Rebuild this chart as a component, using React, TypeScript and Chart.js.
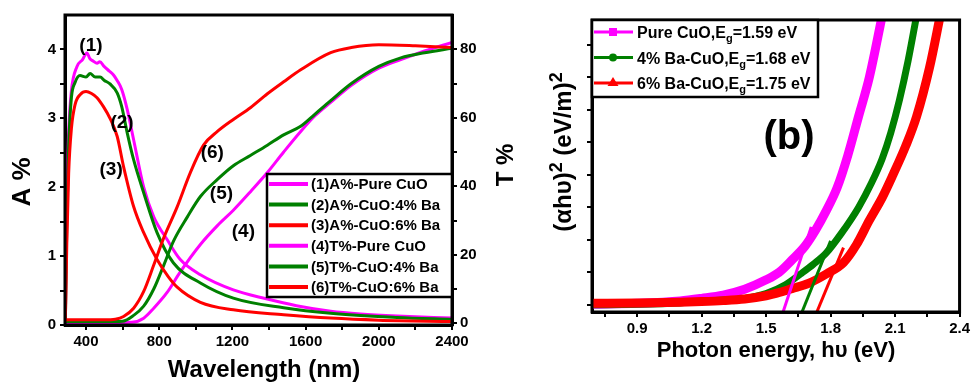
import React, { useEffect, useRef } from 'react';
import { Chart, registerables } from 'chart.js';
Chart.register(...registerables);

const FONT = '"Liberation Sans", Arial, Helvetica, sans-serif';
const MAGENTA = '#FF00FF';
const GREEN = '#008000';
const RED = '#FF0000';

// ---------- Panel (a): absorbance / transmittance vs wavelength ----------
const wlA1 = [287, 295, 305, 320, 350, 380, 405, 420, 440, 460, 475, 500, 530, 550, 570, 595, 625, 660, 715, 770, 843, 915, 1025, 1205, 1385, 1550, 1737, 1900, 2100, 2400];
const absA1 = [0.05, 2.0, 2.8, 3.4, 3.75, 3.85, 3.95, 3.87, 3.83, 3.8, 3.82, 3.75, 3.68, 3.63, 3.55, 3.42, 3.13, 2.69, 2.0, 1.57, 1.24, 0.95, 0.73, 0.51, 0.38, 0.28, 0.2, 0.16, 0.13, 0.1];

const wlA2 = [287, 295, 305, 320, 340, 367, 400, 422, 450, 477, 500, 531, 570, 595, 625, 660, 715, 788, 878, 1025, 1205, 1480, 1737, 2100, 2400];
const absA2 = [0.05, 1.5, 2.6, 3.3, 3.52, 3.62, 3.6, 3.65, 3.6, 3.6, 3.55, 3.5, 3.37, 3.17, 2.79, 2.4, 1.92, 1.34, 0.9, 0.61, 0.39, 0.25, 0.17, 0.11, 0.08];

const wlA3 = [287, 295, 305, 320, 340, 370, 400, 430, 460, 495, 531, 570, 605, 660, 715, 788, 850, 898, 1025, 1205, 1480, 1737, 2000, 2400];
const absA3 = [0.05, 1.2, 2.2, 2.85, 3.2, 3.35, 3.39, 3.36, 3.3, 3.17, 3.0, 2.74, 2.3, 1.72, 1.34, 0.95, 0.7, 0.55, 0.33, 0.22, 0.15, 0.1, 0.07, 0.05];

const wlT4 = [287, 500, 650, 715, 770, 843, 915, 1025, 1118, 1205, 1300, 1391, 1480, 1573, 1650, 1737, 1850, 2000, 2120, 2250, 2400];
const trT4 = [0.2, 0.2, 0.3, 1.5, 4.4, 9, 15, 23, 28.5, 33, 38.5, 44, 50, 56, 60.5, 64.5, 69.5, 74.5, 77, 79.5, 82];

const wlT5 = [287, 500, 600, 660, 715, 770, 825, 878, 953, 1025, 1118, 1205, 1298, 1391, 1480, 1573, 1650, 1737, 1850, 2000, 2120, 2250, 2400];
const trT5 = [0.5, 0.5, 0.6, 2.3, 5, 10, 17, 24, 31, 37, 42, 46, 49, 52, 55, 57.5, 61, 65, 70, 75, 77.5, 79, 80.3];

const wlT6 = [287, 400, 500, 560, 605, 660, 715, 770, 825, 898, 970, 1042, 1118, 1205, 1300, 1391, 1480, 1573, 1737, 1850, 2000, 2200, 2400];
const trT6 = [1, 1, 1, 1.2, 2, 4.4, 9.3, 17, 25, 34, 44, 52, 56, 59.5, 63, 67, 70.5, 74, 79, 80.5, 81.3, 81, 80.5];

const legendA = ['(1)A%-Pure CuO', '(2)A%-CuO:4% Ba', '(3)A%-CuO:6% Ba', '(4)T%-Pure CuO', '(5)T%-CuO:4% Ba', '(6)T%-CuO:6% Ba'];
const legendAColors = [MAGENTA, GREEN, RED, MAGENTA, GREEN, RED];

const xTicksA = [400, 600, 800, 1000, 1200, 1400, 1600, 1800, 2000, 2200, 2400];
const yTicksA = [0, 0.5, 1, 1.5, 2, 2.5, 3, 3.5, 4];
const yTicksT = [0, 10, 20, 30, 40, 50, 60, 70, 80];

const curveTags = [
  { t: '(1)', x: 427, y: 4.05 },
  { t: '(2)', x: 597, y: 2.93 },
  { t: '(3)', x: 537, y: 2.26 },
  { t: '(6)', x: 1090, y: 2.5 },
  { t: '(5)', x: 1140, y: 1.9 },
  { t: '(4)', x: 1260, y: 1.36 },
];

// ---------- Panel (b): Tauc plot ----------
const evPure = [0.69, 0.9, 1.1, 1.2, 1.3, 1.4, 1.5, 1.56, 1.62, 1.68, 1.73, 1.78, 1.83, 1.88, 1.93, 1.98, 2.04];
const tPure = [0.02, 0.05, 0.12, 0.2, 0.3, 0.48, 0.77, 1.0, 1.38, 1.8, 2.3, 2.9, 3.6, 4.6, 5.8, 7.0, 8.9];

const ev4 = [0.69, 0.9, 1.1, 1.2, 1.3, 1.4, 1.5, 1.59, 1.66, 1.72, 1.78, 1.85, 1.93, 1.99, 2.04, 2.08, 2.12, 2.16, 2.2];
const t4 = [0.0, 0.02, 0.06, 0.1, 0.15, 0.2, 0.35, 0.62, 0.95, 1.25, 1.6, 2.2, 3.0, 3.75, 4.5, 5.3, 6.3, 7.5, 8.9];

const ev6 = [0.69, 0.9, 1.1, 1.2, 1.3, 1.4, 1.5, 1.55, 1.62, 1.7, 1.78, 1.86, 1.92, 1.98, 2.04, 2.09, 2.15, 2.2, 2.26, 2.31];
const t6 = [0.05, 0.06, 0.08, 0.1, 0.13, 0.18, 0.28, 0.36, 0.5, 0.67, 0.95, 1.3, 1.85, 2.6, 3.3, 4.0, 4.9, 5.8, 7.3, 8.9];

const fitPureX = [1.579, 1.71];
const fitPureY = [-0.22, 2.4];
const fit4X = [1.667, 1.8];
const fit4Y = [-0.22, 1.97];
const fit6X = [1.736, 1.86];
const fit6Y = [-0.22, 1.76];

const legendB = [
  { a: 'Pure CuO,E', b: '=1.59 eV' },
  { a: '4% Ba-CuO,E', b: '=1.68 eV' },
  { a: '6% Ba-CuO,E', b: '=1.75 eV' },
];
const legendBColors = [MAGENTA, GREEN, RED];

const xTicksB = [0.75, 0.9, 1.05, 1.2, 1.35, 1.5, 1.65, 1.8, 1.95, 2.1, 2.25, 2.4];
const yTicksB = [0, 1, 2, 3, 4, 5, 6, 7, 8];

const pts = (xs: number[], ys: number[]) => xs.map((x, i) => ({ x, y: ys[i] }));

const tickFont = { family: FONT, size: 15, weight: 'bold' as const };
const gridOpts = { drawOnChartArea: false, drawTicks: true, tickLength: 5, color: '#000', lineWidth: 2 };
const borderOpts = { display: true, color: '#000', width: 3 };

function line(data: any, color: string, width: number, extra: any = {}) {
  return {
    data,
    borderColor: color,
    backgroundColor: color,
    borderWidth: width,
    pointRadius: 0,
    fill: false,
    cubicInterpolationMode: 'monotone',
    ...extra,
  };
}

const decorA = {
  id: 'decorA',
  afterDraw(chart: any) {
    const { ctx, chartArea: a } = chart;
    const sx = chart.scales.x;
    const sy = chart.scales.yA;
    ctx.save();
    ctx.strokeStyle = '#000';
    ctx.lineWidth = 3;
    ctx.strokeRect(a.left, a.top, a.right - a.left, a.bottom - a.top);

    ctx.fillStyle = '#000';
    ctx.textAlign = 'center';
    ctx.textBaseline = 'middle';
    ctx.font = `bold 19px ${FONT}`;
    curveTags.forEach((c) => ctx.fillText(c.t, sx.getPixelForValue(c.x), sy.getPixelForValue(c.y)));

    // legend box
    const lx = 267, ly = 174, lw = a.right - 267, lh = 123;
    ctx.fillStyle = '#fff';
    ctx.fillRect(lx, ly, lw, lh);
    ctx.lineWidth = 2.5;
    ctx.strokeStyle = '#000';
    ctx.strokeRect(lx, ly, lw, lh);
    ctx.font = `bold 15px ${FONT}`;
    ctx.textAlign = 'left';
    legendA.forEach((t, i) => {
      const y = 184 + i * 20.6;
      ctx.strokeStyle = legendAColors[i];
      ctx.lineWidth = 4;
      ctx.beginPath();
      ctx.moveTo(lx + 2, y);
      ctx.lineTo(lx + 41, y);
      ctx.stroke();
      ctx.fillStyle = '#000';
      ctx.fillText(t, lx + 44, y + 1);
    });

    // titles
    ctx.fillStyle = '#000';
    ctx.textAlign = 'center';
    ctx.font = `bold 24px ${FONT}`;
    ctx.fillText('Wavelength (nm)', 264, 370);

    ctx.save();
    ctx.translate(23, 182);
    ctx.rotate(-Math.PI / 2);
    ctx.font = `bold 26px ${FONT}`;
    ctx.fillText('A %', 0, 0);
    ctx.restore();

    ctx.save();
    ctx.translate(506, 165);
    ctx.rotate(-Math.PI / 2);
    ctx.font = `bold 24px ${FONT}`;
    ctx.fillText('T %', 0, 0);
    ctx.restore();

    ctx.restore();
  },
};

const decorB = {
  id: 'decorB',
  afterDraw(chart: any) {
    const { ctx, chartArea: a } = chart;
    ctx.save();
    ctx.strokeStyle = '#000';
    ctx.lineWidth = 3;
    ctx.strokeRect(a.left, a.top, a.right - a.left, a.bottom - a.top);

    // legend
    const lx = a.left, ly = a.top, lw = 226, lh = 77;
    ctx.fillStyle = '#fff';
    ctx.fillRect(lx, ly, lw, lh);
    ctx.lineWidth = 2.5;
    ctx.strokeStyle = '#000';
    ctx.strokeRect(lx, ly, lw, lh);
    legendB.forEach((e, i) => {
      const y = ly + 12 + i * 25.5;
      const c = legendBColors[i];
      ctx.strokeStyle = c;
      ctx.fillStyle = c;
      ctx.lineWidth = 3;
      ctx.beginPath();
      ctx.moveTo(lx + 2, y);
      ctx.lineTo(lx + 41, y);
      ctx.stroke();
      const mx = lx + 21;
      if (i === 0) ctx.fillRect(mx - 4, y - 4, 8, 8);
      else if (i === 1) {
        ctx.beginPath();
        ctx.arc(mx, y, 4, 0, Math.PI * 2);
        ctx.fill();
      } else {
        ctx.beginPath();
        ctx.moveTo(mx, y - 6);
        ctx.lineTo(mx + 5.5, y + 3);
        ctx.lineTo(mx - 5.5, y + 3);
        ctx.closePath();
        ctx.fill();
      }
      ctx.fillStyle = '#000';
      ctx.textAlign = 'left';
      ctx.textBaseline = 'alphabetic';
      let x = lx + 45;
      ctx.font = `bold 16px ${FONT}`;
      ctx.fillText(e.a, x, y + 6);
      x += ctx.measureText(e.a).width;
      ctx.font = `bold 11px ${FONT}`;
      ctx.fillText('g', x, y + 10);
      x += ctx.measureText('g').width;
      ctx.font = `bold 16px ${FONT}`;
      ctx.fillText(e.b, x, y + 6);
    });

    ctx.fillStyle = '#000';
    ctx.textAlign = 'center';
    ctx.textBaseline = 'middle';
    ctx.font = `bold 40px ${FONT}`;
    ctx.fillText('(b)', 259, 138);

    ctx.font = `bold 22px ${FONT}`;
    ctx.fillText('Photon energy, h\u03C5 (eV)', 246, 351);

    // y title with superscripts
    ctx.save();
    ctx.translate(33, 152);
    ctx.rotate(-Math.PI / 2);
    const parts = [
      { t: '(\u03B1h\u03C5)', s: 24, dy: 0 },
      { t: '2', s: 18, dy: -9 },
      { t: ' (eV/m)', s: 24, dy: 0 },
      { t: '2', s: 18, dy: -9 },
    ];
    let total = 0;
    parts.forEach((p) => {
      ctx.font = `bold ${p.s}px ${FONT}`;
      total += ctx.measureText(p.t).width;
    });
    let x = -total / 2;
    ctx.textAlign = 'left';
    ctx.textBaseline = 'alphabetic';
    parts.forEach((p) => {
      ctx.font = `bold ${p.s}px ${FONT}`;
      ctx.fillText(p.t, x, 8 + p.dy);
      x += ctx.measureText(p.t).width;
    });
    ctx.restore();

    ctx.restore();
  },
};

export default function App() {
  const ref1 = useRef<HTMLCanvasElement>(null);
  const ref2 = useRef<HTMLCanvasElement>(null);

  useEffect(() => {
    const c1 = new Chart(ref1.current as HTMLCanvasElement, {
      type: 'line',
      data: {
        datasets: [
          line(pts(wlT6, trT6), RED, 3, { yAxisID: 'yT', order: 0 }),
          line(pts(wlA3, absA3), RED, 3, { yAxisID: 'yA', order: 1 }),
          line(pts(wlT5, trT5), GREEN, 3, { yAxisID: 'yT', order: 2 }),
          line(pts(wlA2, absA2), GREEN, 3, { yAxisID: 'yA', order: 3 }),
          line(pts(wlT4, trT4), MAGENTA, 3, { yAxisID: 'yT', order: 4 }),
          line(pts(wlA1, absA1), MAGENTA, 3, { yAxisID: 'yA', order: 5 }),
        ] as any,
      },
      options: {
        animation: false,
        responsive: false,
        devicePixelRatio: 1,
        layout: { padding: { top: 15, left: 0, right: 0, bottom: 0 } },
        plugins: { legend: { display: false }, tooltip: { enabled: false } },
        scales: {
          x: {
            type: 'linear',
            min: 285,
            max: 2400,
            afterBuildTicks: (s: any) => { s.ticks = xTicksA.map((v) => ({ value: v })); },
            afterFit: (s: any) => { s.height = 58; },
            ticks: {
              autoSkip: false, maxRotation: 0, padding: 3, color: '#000', font: tickFont,
              callback: (v: any) => (Number(v) % 400 === 0 ? String(v) : ''),
            },
            grid: gridOpts,
            border: borderOpts,
          },
          yA: {
            type: 'linear',
            position: 'left',
            min: 0,
            max: 4.5,
            afterBuildTicks: (s: any) => { s.ticks = yTicksA.map((v) => ({ value: v })); },
            afterFit: (s: any) => { s.width = 65; },
            ticks: {
              autoSkip: false, padding: 4, color: '#000', font: tickFont,
              callback: (v: any) => (Number.isInteger(Number(v)) ? String(v) : ''),
            },
            grid: gridOpts,
            border: borderOpts,
          },
          yT: {
            type: 'linear',
            position: 'right',
            min: -0.5,
            max: 90,
            afterBuildTicks: (s: any) => { s.ticks = yTicksT.map((v) => ({ value: v })); },
            afterFit: (s: any) => { s.width = 78; },
            ticks: {
              autoSkip: false, padding: 3, color: '#000', font: tickFont,
              callback: (v: any) => (Number(v) % 20 === 0 ? String(v) : ''),
            },
            grid: gridOpts,
            border: borderOpts,
          },
        },
      } as any,
      plugins: [decorA],
    });

    const c2 = new Chart(ref2.current as HTMLCanvasElement, {
      type: 'line',
      data: {
        datasets: [
          line(pts(fitPureX, fitPureY), MAGENTA, 3, { order: 0, clip: 0, cubicInterpolationMode: 'default' }),
          line(pts(fit4X, fit4Y), GREEN, 3, { order: 0, clip: 0, cubicInterpolationMode: 'default' }),
          line(pts(fit6X, fit6Y), RED, 3, { order: 0, clip: 0, cubicInterpolationMode: 'default' }),
          line(pts(ev6, t6), RED, 9, { order: 1, clip: 0 }),
          line(pts(ev4, t4), GREEN, 7, { order: 2, clip: 0 }),
          line(pts(evPure, tPure), MAGENTA, 9, { order: 3, clip: 0 }),
        ] as any,
      },
      options: {
        animation: false,
        responsive: false,
        devicePixelRatio: 1,
        layout: { padding: { top: 20, left: 0, right: 11, bottom: 0 } },
        plugins: { legend: { display: false }, tooltip: { enabled: false } },
        scales: {
          x: {
            type: 'linear',
            min: 0.69,
            max: 2.4,
            afterBuildTicks: (s: any) => { s.ticks = xTicksB.map((v) => ({ value: v })); },
            afterFit: (s: any) => { s.height = 71; },
            ticks: {
              autoSkip: false, maxRotation: 0, padding: 3, color: '#000', font: tickFont,
              callback: (v: any) => (Math.round(Number(v) * 100) % 30 === 0 ? Number(v).toFixed(1) : ''),
            },
            grid: gridOpts,
            border: borderOpts,
          },
          y: {
            type: 'linear',
            position: 'left',
            min: -0.22,
            max: 8.77,
            afterBuildTicks: (s: any) => { s.ticks = yTicksB.map((v) => ({ value: v })); },
            afterFit: (s: any) => { s.width = 62; },
            ticks: { autoSkip: false, padding: 2, color: '#000', font: tickFont, callback: () => '' },
            grid: gridOpts,
            border: borderOpts,
          },
        },
      } as any,
      plugins: [decorB],
    });

    return () => {
      c1.destroy();
      c2.destroy();
    };
  }, []);

  return (
    <div style={{ position: 'absolute', left: 0, top: 0, width: 973, height: 383, background: '#fff' }}>
      <canvas ref={ref1} width={530} height={383} style={{ position: 'absolute', left: 0, top: 0 }} />
      <canvas ref={ref2} width={443} height={383} style={{ position: 'absolute', left: 530, top: 0 }} />
    </div>
  );
}
